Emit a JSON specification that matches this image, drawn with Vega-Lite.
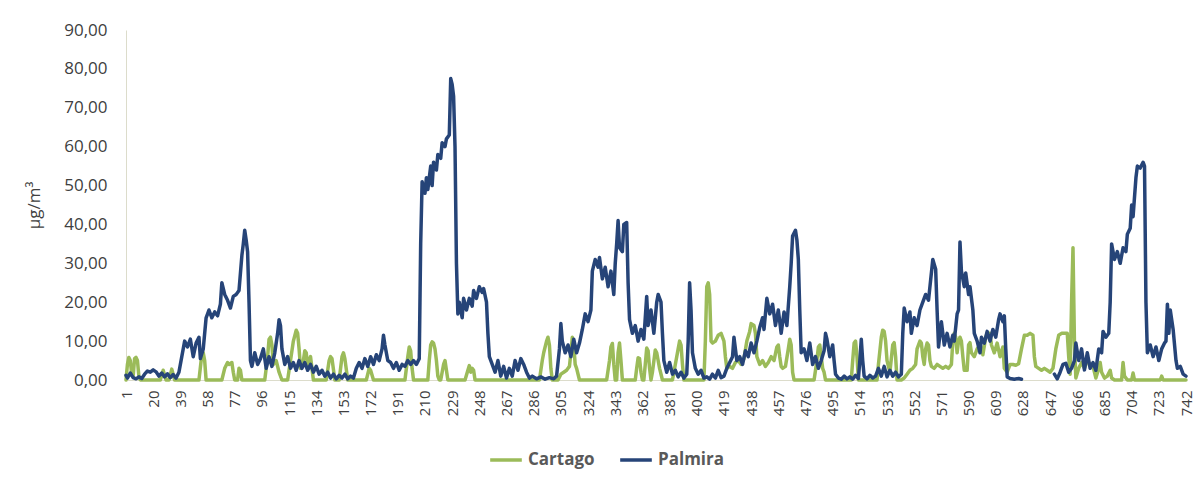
{
"$schema": "https://vega.github.io/schema/vega-lite/v6.json",
"width": 1060, "height": 350,
"autosize": {"type": "none"},
"padding": {"left": 126, "top": 30, "right": 16, "bottom": 100},
"background": "white",
"config": {"view": {"stroke": null}, "font": "Open Sans"},
"data": {"values": [
{"s":"Cartago","i":1,"v":0},{"s":"Cartago","i":2,"v":4.0},{"s":"Cartago","i":3,"v":5.8},{"s":"Cartago","i":4,"v":5.0},{"s":"Cartago","i":5,"v":1.5},{"s":"Cartago","i":6,"v":1.0},{"s":"Cartago","i":7,"v":5.5},{"s":"Cartago","i":8,"v":5.8},{"s":"Cartago","i":9,"v":5.0},{"s":"Cartago","i":10,"v":1.0},{"s":"Cartago","i":11,"v":0},{"s":"Cartago","i":25,"v":0},{"s":"Cartago","i":27,"v":2.5},{"s":"Cartago","i":29,"v":0},{"s":"Cartago","i":31,"v":0},{"s":"Cartago","i":33,"v":2.8},{"s":"Cartago","i":35,"v":0},{"s":"Cartago","i":52,"v":0},{"s":"Cartago","i":54,"v":6.5},{"s":"Cartago","i":55,"v":7.0},{"s":"Cartago","i":56,"v":5.0},{"s":"Cartago","i":57,"v":0},{"s":"Cartago","i":68,"v":0},{"s":"Cartago","i":70,"v":3.0},{"s":"Cartago","i":72,"v":4.5},{"s":"Cartago","i":73,"v":4.0},{"s":"Cartago","i":75,"v":4.5},{"s":"Cartago","i":76,"v":2.0},{"s":"Cartago","i":77,"v":0},{"s":"Cartago","i":79,"v":0},{"s":"Cartago","i":80,"v":3.0},{"s":"Cartago","i":81,"v":2.5},{"s":"Cartago","i":82,"v":0},{"s":"Cartago","i":98,"v":0},{"s":"Cartago","i":100,"v":6.0},{"s":"Cartago","i":101,"v":10.5},{"s":"Cartago","i":102,"v":11.0},{"s":"Cartago","i":103,"v":9.0},{"s":"Cartago","i":104,"v":4.0},{"s":"Cartago","i":106,"v":5.0},{"s":"Cartago","i":108,"v":2.0},{"s":"Cartago","i":110,"v":0},{"s":"Cartago","i":114,"v":0},{"s":"Cartago","i":116,"v":5.0},{"s":"Cartago","i":118,"v":10.0},{"s":"Cartago","i":120,"v":12.8},{"s":"Cartago","i":121,"v":12.0},{"s":"Cartago","i":122,"v":8.0},{"s":"Cartago","i":123,"v":3.0},{"s":"Cartago","i":125,"v":5.0},{"s":"Cartago","i":126,"v":7.5},{"s":"Cartago","i":127,"v":7.0},{"s":"Cartago","i":128,"v":3.5},{"s":"Cartago","i":129,"v":5.0},{"s":"Cartago","i":130,"v":6.0},{"s":"Cartago","i":131,"v":3.0},{"s":"Cartago","i":132,"v":0},{"s":"Cartago","i":141,"v":0},{"s":"Cartago","i":143,"v":5.0},{"s":"Cartago","i":144,"v":6.0},{"s":"Cartago","i":145,"v":5.5},{"s":"Cartago","i":147,"v":0},{"s":"Cartago","i":150,"v":0},{"s":"Cartago","i":152,"v":6.0},{"s":"Cartago","i":153,"v":7.0},{"s":"Cartago","i":154,"v":5.5},{"s":"Cartago","i":156,"v":0},{"s":"Cartago","i":169,"v":0},{"s":"Cartago","i":171,"v":3.0},{"s":"Cartago","i":172,"v":2.5},{"s":"Cartago","i":174,"v":0},{"s":"Cartago","i":196,"v":0},{"s":"Cartago","i":198,"v":6.0},{"s":"Cartago","i":199,"v":8.5},{"s":"Cartago","i":200,"v":7.5},{"s":"Cartago","i":201,"v":3.0},{"s":"Cartago","i":202,"v":0},{"s":"Cartago","i":212,"v":0},{"s":"Cartago","i":213,"v":5.0},{"s":"Cartago","i":214,"v":9.0},{"s":"Cartago","i":215,"v":9.8},{"s":"Cartago","i":216,"v":9.5},{"s":"Cartago","i":217,"v":8.0},{"s":"Cartago","i":218,"v":5.0},{"s":"Cartago","i":219,"v":1.0},{"s":"Cartago","i":220,"v":0},{"s":"Cartago","i":221,"v":0},{"s":"Cartago","i":223,"v":4.0},{"s":"Cartago","i":224,"v":5.0},{"s":"Cartago","i":225,"v":2.5},{"s":"Cartago","i":226,"v":0},{"s":"Cartago","i":238,"v":0},{"s":"Cartago","i":240,"v":2.5},{"s":"Cartago","i":241,"v":3.7},{"s":"Cartago","i":242,"v":2.0},{"s":"Cartago","i":243,"v":3.0},{"s":"Cartago","i":244,"v":2.5},{"s":"Cartago","i":245,"v":0},{"s":"Cartago","i":290,"v":0},{"s":"Cartago","i":292,"v":5.0},{"s":"Cartago","i":293,"v":7.0},{"s":"Cartago","i":295,"v":10.0},{"s":"Cartago","i":296,"v":11.0},{"s":"Cartago","i":297,"v":9.0},{"s":"Cartago","i":298,"v":3.0},{"s":"Cartago","i":299,"v":0},{"s":"Cartago","i":303,"v":0},{"s":"Cartago","i":305,"v":1.5},{"s":"Cartago","i":307,"v":2.0},{"s":"Cartago","i":309,"v":2.5},{"s":"Cartago","i":310,"v":3.0},{"s":"Cartago","i":311,"v":3.5},{"s":"Cartago","i":312,"v":7.0},{"s":"Cartago","i":313,"v":11.0},{"s":"Cartago","i":314,"v":9.0},{"s":"Cartago","i":315,"v":4.0},{"s":"Cartago","i":316,"v":3.0},{"s":"Cartago","i":318,"v":0},{"s":"Cartago","i":337,"v":0},{"s":"Cartago","i":339,"v":5.0},{"s":"Cartago","i":340,"v":8.5},{"s":"Cartago","i":341,"v":9.4},{"s":"Cartago","i":342,"v":4.0},{"s":"Cartago","i":343,"v":0},{"s":"Cartago","i":344,"v":0},{"s":"Cartago","i":345,"v":7.0},{"s":"Cartago","i":346,"v":9.5},{"s":"Cartago","i":347,"v":5.0},{"s":"Cartago","i":348,"v":0},{"s":"Cartago","i":357,"v":0},{"s":"Cartago","i":358,"v":3.0},{"s":"Cartago","i":359,"v":5.7},{"s":"Cartago","i":360,"v":5.5},{"s":"Cartago","i":361,"v":2.0},{"s":"Cartago","i":362,"v":0},{"s":"Cartago","i":363,"v":0},{"s":"Cartago","i":364,"v":4.0},{"s":"Cartago","i":365,"v":8.2},{"s":"Cartago","i":366,"v":7.5},{"s":"Cartago","i":367,"v":3.0},{"s":"Cartago","i":368,"v":0},{"s":"Cartago","i":369,"v":2.0},{"s":"Cartago","i":371,"v":7.7},{"s":"Cartago","i":372,"v":7.0},{"s":"Cartago","i":373,"v":5.0},{"s":"Cartago","i":374,"v":3.0},{"s":"Cartago","i":376,"v":0},{"s":"Cartago","i":383,"v":0},{"s":"Cartago","i":385,"v":4.0},{"s":"Cartago","i":387,"v":8.0},{"s":"Cartago","i":388,"v":10.0},{"s":"Cartago","i":389,"v":9.0},{"s":"Cartago","i":390,"v":4.0},{"s":"Cartago","i":391,"v":0},{"s":"Cartago","i":405,"v":0},{"s":"Cartago","i":406,"v":10.0},{"s":"Cartago","i":407,"v":24.0},{"s":"Cartago","i":408,"v":25.0},{"s":"Cartago","i":409,"v":22.0},{"s":"Cartago","i":410,"v":10.0},{"s":"Cartago","i":411,"v":9.5},{"s":"Cartago","i":413,"v":10.0},{"s":"Cartago","i":415,"v":11.5},{"s":"Cartago","i":417,"v":12.0},{"s":"Cartago","i":419,"v":10.0},{"s":"Cartago","i":420,"v":6.0},{"s":"Cartago","i":421,"v":3.0},{"s":"Cartago","i":423,"v":3.5},{"s":"Cartago","i":425,"v":3.0},{"s":"Cartago","i":427,"v":4.5},{"s":"Cartago","i":429,"v":5.0},{"s":"Cartago","i":431,"v":4.0},{"s":"Cartago","i":433,"v":5.5},{"s":"Cartago","i":435,"v":10.0},{"s":"Cartago","i":437,"v":12.5},{"s":"Cartago","i":438,"v":14.5},{"s":"Cartago","i":440,"v":14.0},{"s":"Cartago","i":441,"v":12.0},{"s":"Cartago","i":442,"v":6.0},{"s":"Cartago","i":444,"v":4.0},{"s":"Cartago","i":446,"v":5.0},{"s":"Cartago","i":448,"v":3.5},{"s":"Cartago","i":450,"v":4.5},{"s":"Cartago","i":452,"v":6.0},{"s":"Cartago","i":454,"v":5.0},{"s":"Cartago","i":456,"v":8.5},{"s":"Cartago","i":457,"v":9.0},{"s":"Cartago","i":458,"v":6.0},{"s":"Cartago","i":459,"v":3.5},{"s":"Cartago","i":460,"v":3.0},{"s":"Cartago","i":462,"v":3.5},{"s":"Cartago","i":464,"v":8.0},{"s":"Cartago","i":465,"v":10.5},{"s":"Cartago","i":466,"v":9.0},{"s":"Cartago","i":467,"v":2.0},{"s":"Cartago","i":468,"v":0},{"s":"Cartago","i":482,"v":0},{"s":"Cartago","i":484,"v":5.0},{"s":"Cartago","i":485,"v":8.5},{"s":"Cartago","i":486,"v":9.0},{"s":"Cartago","i":487,"v":6.0},{"s":"Cartago","i":488,"v":3.0},{"s":"Cartago","i":489,"v":2.0},{"s":"Cartago","i":490,"v":0},{"s":"Cartago","i":508,"v":0},{"s":"Cartago","i":509,"v":5.0},{"s":"Cartago","i":510,"v":9.5},{"s":"Cartago","i":511,"v":10.0},{"s":"Cartago","i":512,"v":6.0},{"s":"Cartago","i":513,"v":0},{"s":"Cartago","i":526,"v":0},{"s":"Cartago","i":527,"v":4.0},{"s":"Cartago","i":529,"v":11.0},{"s":"Cartago","i":530,"v":12.8},{"s":"Cartago","i":531,"v":12.5},{"s":"Cartago","i":532,"v":10.0},{"s":"Cartago","i":533,"v":5.0},{"s":"Cartago","i":535,"v":2.0},{"s":"Cartago","i":537,"v":9.0},{"s":"Cartago","i":538,"v":9.6},{"s":"Cartago","i":539,"v":6.0},{"s":"Cartago","i":540,"v":0},{"s":"Cartago","i":543,"v":0},{"s":"Cartago","i":545,"v":0.5},{"s":"Cartago","i":547,"v":1.5},{"s":"Cartago","i":549,"v":2.5},{"s":"Cartago","i":551,"v":3.0},{"s":"Cartago","i":553,"v":4.0},{"s":"Cartago","i":554,"v":8.0},{"s":"Cartago","i":556,"v":10.0},{"s":"Cartago","i":557,"v":9.5},{"s":"Cartago","i":558,"v":6.0},{"s":"Cartago","i":559,"v":4.0},{"s":"Cartago","i":560,"v":8.0},{"s":"Cartago","i":561,"v":9.5},{"s":"Cartago","i":562,"v":9.0},{"s":"Cartago","i":563,"v":5.0},{"s":"Cartago","i":564,"v":3.5},{"s":"Cartago","i":566,"v":3.0},{"s":"Cartago","i":568,"v":4.0},{"s":"Cartago","i":570,"v":3.5},{"s":"Cartago","i":572,"v":3.0},{"s":"Cartago","i":574,"v":3.5},{"s":"Cartago","i":576,"v":3.0},{"s":"Cartago","i":578,"v":4.0},{"s":"Cartago","i":579,"v":10.0},{"s":"Cartago","i":580,"v":12.0},{"s":"Cartago","i":581,"v":11.0},{"s":"Cartago","i":582,"v":7.0},{"s":"Cartago","i":583,"v":10.0},{"s":"Cartago","i":584,"v":11.0},{"s":"Cartago","i":585,"v":10.0},{"s":"Cartago","i":586,"v":6.0},{"s":"Cartago","i":587,"v":2.5},{"s":"Cartago","i":589,"v":2.5},{"s":"Cartago","i":590,"v":9.0},{"s":"Cartago","i":591,"v":9.6},{"s":"Cartago","i":592,"v":7.0},{"s":"Cartago","i":594,"v":6.0},{"s":"Cartago","i":596,"v":8.0},{"s":"Cartago","i":598,"v":9.0},{"s":"Cartago","i":600,"v":6.5},{"s":"Cartago","i":602,"v":11.0},{"s":"Cartago","i":603,"v":12.0},{"s":"Cartago","i":605,"v":12.0},{"s":"Cartago","i":606,"v":9.0},{"s":"Cartago","i":608,"v":7.0},{"s":"Cartago","i":610,"v":9.5},{"s":"Cartago","i":612,"v":6.0},{"s":"Cartago","i":614,"v":8.5},{"s":"Cartago","i":615,"v":3.0},{"s":"Cartago","i":617,"v":2.0},{"s":"Cartago","i":619,"v":4.0},{"s":"Cartago","i":621,"v":4.0},{"s":"Cartago","i":623,"v":3.8},{"s":"Cartago","i":625,"v":4.2},{"s":"Cartago","i":627,"v":8.0},{"s":"Cartago","i":629,"v":11.5},{"s":"Cartago","i":631,"v":11.5},{"s":"Cartago","i":633,"v":12.0},{"s":"Cartago","i":635,"v":11.5},{"s":"Cartago","i":636,"v":6.0},{"s":"Cartago","i":637,"v":3.5},{"s":"Cartago","i":639,"v":3.0},{"s":"Cartago","i":641,"v":2.5},{"s":"Cartago","i":643,"v":3.0},{"s":"Cartago","i":645,"v":2.5},{"s":"Cartago","i":647,"v":2.0},{"s":"Cartago","i":649,"v":3.0},{"s":"Cartago","i":651,"v":8.0},{"s":"Cartago","i":653,"v":11.5},{"s":"Cartago","i":655,"v":12.0},{"s":"Cartago","i":657,"v":12.0},{"s":"Cartago","i":659,"v":12.0},{"s":"Cartago","i":660,"v":6.0},{"s":"Cartago","i":661,"v":1.5},{"s":"Cartago","i":662,"v":20.0},{"s":"Cartago","i":663,"v":34.0},{"s":"Cartago","i":664,"v":10.0},{"s":"Cartago","i":665,"v":0.5},{"s":"Cartago","i":667,"v":3.0},{"s":"Cartago","i":669,"v":4.5},{"s":"Cartago","i":671,"v":3.0},{"s":"Cartago","i":673,"v":5.0},{"s":"Cartago","i":675,"v":4.0},{"s":"Cartago","i":677,"v":3.5},{"s":"Cartago","i":679,"v":0.5},{"s":"Cartago","i":681,"v":3.0},{"s":"Cartago","i":682,"v":4.5},{"s":"Cartago","i":683,"v":2.0},{"s":"Cartago","i":685,"v":0.5},{"s":"Cartago","i":687,"v":1.0},{"s":"Cartago","i":689,"v":2.5},{"s":"Cartago","i":690,"v":0.5},{"s":"Cartago","i":692,"v":0},{"s":"Cartago","i":697,"v":0},{"s":"Cartago","i":698,"v":4.5},{"s":"Cartago","i":699,"v":1.0},{"s":"Cartago","i":701,"v":0},{"s":"Cartago","i":704,"v":0},{"s":"Cartago","i":705,"v":1.8},{"s":"Cartago","i":706,"v":0},{"s":"Cartago","i":724,"v":0},{"s":"Cartago","i":725,"v":1.0},{"s":"Cartago","i":726,"v":0},{"s":"Cartago","i":742,"v":0},
{"s":"Palmira","i":1,"v":1.2},{"s":"Palmira","i":2,"v":0.5},{"s":"Palmira","i":4,"v":1.8},{"s":"Palmira","i":6,"v":0.6},{"s":"Palmira","i":8,"v":0.3},{"s":"Palmira","i":10,"v":0.8},{"s":"Palmira","i":12,"v":0.4},{"s":"Palmira","i":14,"v":1.5},{"s":"Palmira","i":16,"v":2.3},{"s":"Palmira","i":18,"v":2.0},{"s":"Palmira","i":20,"v":2.6},{"s":"Palmira","i":22,"v":2.1},{"s":"Palmira","i":24,"v":1.0},{"s":"Palmira","i":26,"v":1.8},{"s":"Palmira","i":28,"v":0.8},{"s":"Palmira","i":30,"v":1.6},{"s":"Palmira","i":32,"v":0.6},{"s":"Palmira","i":34,"v":1.4},{"s":"Palmira","i":36,"v":0.5},{"s":"Palmira","i":38,"v":2.0},{"s":"Palmira","i":40,"v":6.0},{"s":"Palmira","i":42,"v":10.0},{"s":"Palmira","i":44,"v":8.5},{"s":"Palmira","i":46,"v":10.5},{"s":"Palmira","i":48,"v":6.0},{"s":"Palmira","i":50,"v":9.5},{"s":"Palmira","i":52,"v":11.0},{"s":"Palmira","i":53,"v":5.5},{"s":"Palmira","i":55,"v":8.0},{"s":"Palmira","i":57,"v":16.0},{"s":"Palmira","i":59,"v":18.0},{"s":"Palmira","i":61,"v":16.0},{"s":"Palmira","i":63,"v":17.5},{"s":"Palmira","i":65,"v":16.5},{"s":"Palmira","i":67,"v":19.5},{"s":"Palmira","i":68,"v":25.0},{"s":"Palmira","i":70,"v":22.0},{"s":"Palmira","i":72,"v":20.5},{"s":"Palmira","i":74,"v":18.5},{"s":"Palmira","i":76,"v":21.5},{"s":"Palmira","i":78,"v":22.0},{"s":"Palmira","i":80,"v":23.0},{"s":"Palmira","i":82,"v":32.0},{"s":"Palmira","i":83,"v":35.0},{"s":"Palmira","i":84,"v":38.5},{"s":"Palmira","i":85,"v":36.0},{"s":"Palmira","i":86,"v":33.0},{"s":"Palmira","i":87,"v":20.0},{"s":"Palmira","i":88,"v":5.0},{"s":"Palmira","i":89,"v":3.5},{"s":"Palmira","i":91,"v":7.0},{"s":"Palmira","i":93,"v":4.0},{"s":"Palmira","i":95,"v":5.5},{"s":"Palmira","i":97,"v":8.0},{"s":"Palmira","i":99,"v":3.0},{"s":"Palmira","i":101,"v":6.0},{"s":"Palmira","i":103,"v":3.5},{"s":"Palmira","i":105,"v":7.0},{"s":"Palmira","i":107,"v":12.0},{"s":"Palmira","i":108,"v":15.5},{"s":"Palmira","i":109,"v":14.0},{"s":"Palmira","i":110,"v":8.0},{"s":"Palmira","i":112,"v":4.0},{"s":"Palmira","i":114,"v":6.0},{"s":"Palmira","i":116,"v":3.0},{"s":"Palmira","i":118,"v":4.5},{"s":"Palmira","i":120,"v":2.5},{"s":"Palmira","i":122,"v":5.0},{"s":"Palmira","i":124,"v":3.0},{"s":"Palmira","i":126,"v":4.5},{"s":"Palmira","i":128,"v":2.5},{"s":"Palmira","i":130,"v":4.0},{"s":"Palmira","i":132,"v":2.0},{"s":"Palmira","i":134,"v":3.5},{"s":"Palmira","i":136,"v":1.5},{"s":"Palmira","i":138,"v":2.5},{"s":"Palmira","i":140,"v":1.0},{"s":"Palmira","i":142,"v":2.0},{"s":"Palmira","i":144,"v":0.5},{"s":"Palmira","i":146,"v":1.5},{"s":"Palmira","i":148,"v":0.3},{"s":"Palmira","i":150,"v":1.2},{"s":"Palmira","i":152,"v":0.5},{"s":"Palmira","i":154,"v":1.5},{"s":"Palmira","i":156,"v":0.3},{"s":"Palmira","i":158,"v":1.0},{"s":"Palmira","i":160,"v":0.5},{"s":"Palmira","i":162,"v":3.0},{"s":"Palmira","i":164,"v":4.5},{"s":"Palmira","i":166,"v":3.0},{"s":"Palmira","i":168,"v":5.5},{"s":"Palmira","i":170,"v":3.5},{"s":"Palmira","i":172,"v":6.0},{"s":"Palmira","i":174,"v":4.0},{"s":"Palmira","i":176,"v":6.5},{"s":"Palmira","i":178,"v":5.0},{"s":"Palmira","i":180,"v":8.0},{"s":"Palmira","i":181,"v":11.5},{"s":"Palmira","i":182,"v":9.0},{"s":"Palmira","i":184,"v":5.0},{"s":"Palmira","i":186,"v":4.5},{"s":"Palmira","i":188,"v":3.0},{"s":"Palmira","i":190,"v":4.5},{"s":"Palmira","i":192,"v":2.5},{"s":"Palmira","i":194,"v":4.0},{"s":"Palmira","i":196,"v":3.5},{"s":"Palmira","i":198,"v":5.0},{"s":"Palmira","i":200,"v":4.0},{"s":"Palmira","i":202,"v":5.0},{"s":"Palmira","i":204,"v":4.0},{"s":"Palmira","i":206,"v":5.5},{"s":"Palmira","i":207,"v":35.0},{"s":"Palmira","i":208,"v":51.0},{"s":"Palmira","i":210,"v":48.0},{"s":"Palmira","i":211,"v":52.0},{"s":"Palmira","i":212,"v":49.0},{"s":"Palmira","i":214,"v":55.0},{"s":"Palmira","i":215,"v":50.0},{"s":"Palmira","i":216,"v":56.0},{"s":"Palmira","i":218,"v":54.0},{"s":"Palmira","i":219,"v":58.0},{"s":"Palmira","i":221,"v":57.0},{"s":"Palmira","i":222,"v":61.0},{"s":"Palmira","i":224,"v":60.0},{"s":"Palmira","i":225,"v":62.0},{"s":"Palmira","i":227,"v":63.0},{"s":"Palmira","i":228,"v":77.5},{"s":"Palmira","i":229,"v":76.0},{"s":"Palmira","i":230,"v":73.0},{"s":"Palmira","i":231,"v":60.0},{"s":"Palmira","i":232,"v":30.0},{"s":"Palmira","i":233,"v":17.0},{"s":"Palmira","i":234,"v":20.0},{"s":"Palmira","i":236,"v":16.0},{"s":"Palmira","i":237,"v":21.0},{"s":"Palmira","i":239,"v":18.0},{"s":"Palmira","i":241,"v":21.0},{"s":"Palmira","i":243,"v":19.0},{"s":"Palmira","i":244,"v":23.0},{"s":"Palmira","i":246,"v":21.0},{"s":"Palmira","i":248,"v":24.0},{"s":"Palmira","i":250,"v":22.5},{"s":"Palmira","i":251,"v":23.5},{"s":"Palmira","i":253,"v":20.0},{"s":"Palmira","i":254,"v":12.0},{"s":"Palmira","i":255,"v":6.0},{"s":"Palmira","i":257,"v":4.0},{"s":"Palmira","i":259,"v":2.0},{"s":"Palmira","i":261,"v":5.0},{"s":"Palmira","i":263,"v":1.0},{"s":"Palmira","i":265,"v":3.5},{"s":"Palmira","i":267,"v":0.5},{"s":"Palmira","i":269,"v":3.0},{"s":"Palmira","i":271,"v":1.0},{"s":"Palmira","i":273,"v":5.0},{"s":"Palmira","i":275,"v":2.5},{"s":"Palmira","i":277,"v":5.5},{"s":"Palmira","i":279,"v":4.0},{"s":"Palmira","i":281,"v":2.0},{"s":"Palmira","i":283,"v":0.5},{"s":"Palmira","i":285,"v":1.0},{"s":"Palmira","i":288,"v":0.3},{"s":"Palmira","i":291,"v":0.8},{"s":"Palmira","i":294,"v":0.2},{"s":"Palmira","i":297,"v":0.6},{"s":"Palmira","i":300,"v":0.3},{"s":"Palmira","i":302,"v":1.0},{"s":"Palmira","i":304,"v":8.0},{"s":"Palmira","i":305,"v":14.5},{"s":"Palmira","i":306,"v":10.0},{"s":"Palmira","i":308,"v":7.0},{"s":"Palmira","i":310,"v":9.0},{"s":"Palmira","i":312,"v":6.0},{"s":"Palmira","i":314,"v":10.5},{"s":"Palmira","i":316,"v":7.0},{"s":"Palmira","i":318,"v":9.5},{"s":"Palmira","i":320,"v":13.0},{"s":"Palmira","i":322,"v":17.0},{"s":"Palmira","i":324,"v":15.0},{"s":"Palmira","i":326,"v":18.0},{"s":"Palmira","i":327,"v":28.0},{"s":"Palmira","i":329,"v":31.0},{"s":"Palmira","i":331,"v":29.0},{"s":"Palmira","i":332,"v":31.5},{"s":"Palmira","i":334,"v":26.0},{"s":"Palmira","i":336,"v":29.0},{"s":"Palmira","i":338,"v":24.0},{"s":"Palmira","i":340,"v":28.0},{"s":"Palmira","i":342,"v":22.0},{"s":"Palmira","i":343,"v":30.0},{"s":"Palmira","i":344,"v":35.0},{"s":"Palmira","i":345,"v":41.0},{"s":"Palmira","i":346,"v":34.0},{"s":"Palmira","i":348,"v":33.0},{"s":"Palmira","i":349,"v":40.0},{"s":"Palmira","i":351,"v":40.5},{"s":"Palmira","i":352,"v":25.0},{"s":"Palmira","i":353,"v":15.5},{"s":"Palmira","i":355,"v":12.0},{"s":"Palmira","i":357,"v":14.0},{"s":"Palmira","i":359,"v":10.0},{"s":"Palmira","i":361,"v":13.0},{"s":"Palmira","i":363,"v":10.5},{"s":"Palmira","i":365,"v":21.5},{"s":"Palmira","i":366,"v":14.0},{"s":"Palmira","i":368,"v":18.0},{"s":"Palmira","i":370,"v":12.0},{"s":"Palmira","i":372,"v":20.0},{"s":"Palmira","i":373,"v":22.0},{"s":"Palmira","i":375,"v":20.0},{"s":"Palmira","i":376,"v":12.0},{"s":"Palmira","i":377,"v":5.0},{"s":"Palmira","i":379,"v":2.0},{"s":"Palmira","i":381,"v":4.5},{"s":"Palmira","i":383,"v":1.5},{"s":"Palmira","i":385,"v":2.5},{"s":"Palmira","i":387,"v":0.8},{"s":"Palmira","i":389,"v":2.0},{"s":"Palmira","i":391,"v":0.5},{"s":"Palmira","i":393,"v":1.5},{"s":"Palmira","i":394,"v":10.0},{"s":"Palmira","i":395,"v":25.0},{"s":"Palmira","i":396,"v":18.0},{"s":"Palmira","i":397,"v":7.0},{"s":"Palmira","i":399,"v":3.0},{"s":"Palmira","i":401,"v":1.5},{"s":"Palmira","i":403,"v":2.5},{"s":"Palmira","i":405,"v":0.5},{"s":"Palmira","i":407,"v":0.8},{"s":"Palmira","i":409,"v":0.2},{"s":"Palmira","i":411,"v":1.5},{"s":"Palmira","i":413,"v":0.5},{"s":"Palmira","i":415,"v":2.5},{"s":"Palmira","i":417,"v":0.6},{"s":"Palmira","i":419,"v":1.0},{"s":"Palmira","i":421,"v":3.0},{"s":"Palmira","i":423,"v":4.5},{"s":"Palmira","i":425,"v":6.0},{"s":"Palmira","i":426,"v":11.0},{"s":"Palmira","i":428,"v":5.0},{"s":"Palmira","i":430,"v":6.0},{"s":"Palmira","i":432,"v":4.0},{"s":"Palmira","i":434,"v":7.5},{"s":"Palmira","i":436,"v":6.0},{"s":"Palmira","i":438,"v":9.5},{"s":"Palmira","i":440,"v":7.0},{"s":"Palmira","i":442,"v":10.0},{"s":"Palmira","i":444,"v":13.5},{"s":"Palmira","i":446,"v":16.0},{"s":"Palmira","i":447,"v":13.0},{"s":"Palmira","i":449,"v":21.0},{"s":"Palmira","i":451,"v":17.0},{"s":"Palmira","i":453,"v":19.5},{"s":"Palmira","i":455,"v":14.0},{"s":"Palmira","i":457,"v":18.0},{"s":"Palmira","i":459,"v":12.0},{"s":"Palmira","i":461,"v":17.5},{"s":"Palmira","i":463,"v":14.0},{"s":"Palmira","i":465,"v":24.0},{"s":"Palmira","i":466,"v":30.0},{"s":"Palmira","i":467,"v":37.0},{"s":"Palmira","i":469,"v":38.5},{"s":"Palmira","i":470,"v":36.0},{"s":"Palmira","i":471,"v":31.0},{"s":"Palmira","i":472,"v":18.0},{"s":"Palmira","i":473,"v":7.0},{"s":"Palmira","i":475,"v":8.0},{"s":"Palmira","i":477,"v":5.0},{"s":"Palmira","i":479,"v":9.5},{"s":"Palmira","i":481,"v":4.0},{"s":"Palmira","i":483,"v":6.0},{"s":"Palmira","i":485,"v":3.0},{"s":"Palmira","i":487,"v":5.0},{"s":"Palmira","i":489,"v":7.5},{"s":"Palmira","i":490,"v":12.0},{"s":"Palmira","i":491,"v":10.5},{"s":"Palmira","i":493,"v":6.0},{"s":"Palmira","i":495,"v":9.0},{"s":"Palmira","i":496,"v":5.0},{"s":"Palmira","i":497,"v":1.5},{"s":"Palmira","i":499,"v":0.5},{"s":"Palmira","i":501,"v":0.2},{"s":"Palmira","i":503,"v":1.0},{"s":"Palmira","i":505,"v":0.3},{"s":"Palmira","i":507,"v":0.8},{"s":"Palmira","i":509,"v":0.2},{"s":"Palmira","i":511,"v":1.2},{"s":"Palmira","i":513,"v":0.4},{"s":"Palmira","i":514,"v":5.0},{"s":"Palmira","i":515,"v":10.5},{"s":"Palmira","i":516,"v":5.0},{"s":"Palmira","i":517,"v":1.0},{"s":"Palmira","i":519,"v":0.3},{"s":"Palmira","i":521,"v":1.2},{"s":"Palmira","i":523,"v":0.5},{"s":"Palmira","i":525,"v":1.0},{"s":"Palmira","i":527,"v":3.0},{"s":"Palmira","i":529,"v":1.0},{"s":"Palmira","i":531,"v":3.5},{"s":"Palmira","i":533,"v":0.8},{"s":"Palmira","i":535,"v":2.5},{"s":"Palmira","i":537,"v":1.0},{"s":"Palmira","i":539,"v":2.0},{"s":"Palmira","i":541,"v":0.8},{"s":"Palmira","i":543,"v":1.5},{"s":"Palmira","i":544,"v":12.0},{"s":"Palmira","i":545,"v":18.5},{"s":"Palmira","i":547,"v":15.0},{"s":"Palmira","i":549,"v":17.5},{"s":"Palmira","i":550,"v":12.0},{"s":"Palmira","i":552,"v":16.0},{"s":"Palmira","i":554,"v":14.0},{"s":"Palmira","i":556,"v":18.0},{"s":"Palmira","i":558,"v":20.0},{"s":"Palmira","i":560,"v":22.0},{"s":"Palmira","i":562,"v":20.5},{"s":"Palmira","i":563,"v":24.0},{"s":"Palmira","i":565,"v":31.0},{"s":"Palmira","i":567,"v":28.5},{"s":"Palmira","i":568,"v":18.0},{"s":"Palmira","i":569,"v":8.5},{"s":"Palmira","i":571,"v":15.0},{"s":"Palmira","i":573,"v":9.0},{"s":"Palmira","i":575,"v":12.0},{"s":"Palmira","i":577,"v":8.5},{"s":"Palmira","i":579,"v":11.5},{"s":"Palmira","i":580,"v":10.0},{"s":"Palmira","i":582,"v":17.0},{"s":"Palmira","i":583,"v":18.0},{"s":"Palmira","i":584,"v":35.5},{"s":"Palmira","i":585,"v":28.0},{"s":"Palmira","i":587,"v":24.0},{"s":"Palmira","i":588,"v":27.5},{"s":"Palmira","i":590,"v":22.0},{"s":"Palmira","i":591,"v":24.0},{"s":"Palmira","i":593,"v":18.0},{"s":"Palmira","i":594,"v":12.0},{"s":"Palmira","i":596,"v":10.0},{"s":"Palmira","i":598,"v":7.0},{"s":"Palmira","i":599,"v":11.0},{"s":"Palmira","i":601,"v":9.5},{"s":"Palmira","i":603,"v":12.5},{"s":"Palmira","i":605,"v":10.0},{"s":"Palmira","i":607,"v":13.0},{"s":"Palmira","i":609,"v":11.0},{"s":"Palmira","i":611,"v":15.5},{"s":"Palmira","i":612,"v":17.0},{"s":"Palmira","i":614,"v":15.0},{"s":"Palmira","i":615,"v":16.5},{"s":"Palmira","i":616,"v":8.0},{"s":"Palmira","i":617,"v":0.8},{"s":"Palmira","i":619,"v":0.4},{"s":"Palmira","i":622,"v":0.2},{"s":"Palmira","i":625,"v":0.4},{"s":"Palmira","i":627,"v":0.2},{"s":"Palmira","i":638,"v":null},{"s":"Palmira","i":650,"v":1.5},{"s":"Palmira","i":652,"v":0.3},{"s":"Palmira","i":654,"v":2.0},{"s":"Palmira","i":656,"v":4.0},{"s":"Palmira","i":658,"v":4.3},{"s":"Palmira","i":660,"v":2.0},{"s":"Palmira","i":662,"v":3.0},{"s":"Palmira","i":664,"v":5.0},{"s":"Palmira","i":665,"v":9.5},{"s":"Palmira","i":667,"v":5.0},{"s":"Palmira","i":669,"v":8.0},{"s":"Palmira","i":671,"v":2.6},{"s":"Palmira","i":673,"v":7.0},{"s":"Palmira","i":675,"v":3.0},{"s":"Palmira","i":677,"v":4.5},{"s":"Palmira","i":679,"v":2.5},{"s":"Palmira","i":681,"v":8.0},{"s":"Palmira","i":683,"v":7.0},{"s":"Palmira","i":684,"v":12.5},{"s":"Palmira","i":686,"v":11.0},{"s":"Palmira","i":688,"v":12.0},{"s":"Palmira","i":689,"v":20.0},{"s":"Palmira","i":690,"v":35.0},{"s":"Palmira","i":692,"v":31.0},{"s":"Palmira","i":694,"v":33.0},{"s":"Palmira","i":696,"v":30.0},{"s":"Palmira","i":698,"v":34.0},{"s":"Palmira","i":700,"v":33.0},{"s":"Palmira","i":701,"v":37.5},{"s":"Palmira","i":703,"v":39.0},{"s":"Palmira","i":704,"v":45.0},{"s":"Palmira","i":705,"v":42.0},{"s":"Palmira","i":707,"v":52.0},{"s":"Palmira","i":708,"v":55.0},{"s":"Palmira","i":710,"v":54.5},{"s":"Palmira","i":712,"v":56.0},{"s":"Palmira","i":713,"v":55.0},{"s":"Palmira","i":714,"v":20.0},{"s":"Palmira","i":715,"v":7.0},{"s":"Palmira","i":717,"v":9.0},{"s":"Palmira","i":719,"v":6.0},{"s":"Palmira","i":721,"v":8.5},{"s":"Palmira","i":723,"v":5.0},{"s":"Palmira","i":725,"v":8.0},{"s":"Palmira","i":727,"v":9.5},{"s":"Palmira","i":728,"v":10.0},{"s":"Palmira","i":729,"v":19.5},{"s":"Palmira","i":730,"v":12.0},{"s":"Palmira","i":731,"v":18.0},{"s":"Palmira","i":733,"v":13.0},{"s":"Palmira","i":735,"v":5.0},{"s":"Palmira","i":736,"v":3.0},{"s":"Palmira","i":738,"v":3.5},{"s":"Palmira","i":740,"v":1.5},{"s":"Palmira","i":742,"v":1.0}
]},
"mark": {"type": "line", "strokeWidth": 3.5, "strokeJoin": "round", "strokeCap": "round", "invalid": "break-paths-show-domains"},
"encoding": {
 "x": {"field": "i", "type": "quantitative", "scale": {"domain": [1, 742], "nice": false, "zero": false},
  "axis": {"title": null, "values": [1,20,39,58,77,96,115,134,153,172,191,210,229,248,267,286,305,324,343,362,381,400,419,438,457,476,495,514,533,552,571,590,609,628,647,666,685,704,723,742],
   "labelAngle": -90, "ticks": false, "grid": false, "domainColor": "#dcdccb", "domainWidth": 1, "labelFontSize": 15, "labelColor": "#404040", "labelPadding": 10, "labelFlush": false, "labelOverlap": false}},
 "y": {"field": "v", "type": "quantitative", "scale": {"domain": [0, 90], "nice": false},
  "axis": {"title": "µg/m³", "titleFontSize": 17, "titleFontWeight": "normal", "titleColor": "#404040", "titlePadding": 20,
   "values": [0,10,20,30,40,50,60,70,80,90], "labelExpr": "replace(format(datum.value, '.2f'), '.', ',')",
   "grid": false, "ticks": false, "domainColor": "#dcdccb", "labelFontSize": 17, "labelColor": "#404040", "labelPadding": 19}},
 "color": {"field": "s", "type": "nominal", "scale": {"domain": ["Cartago", "Palmira"], "range": ["#9bbb59", "#264478"]},
  "legend": {"title": null, "orient": "none", "legendX": 362, "legendY": 412, "direction": "horizontal",
   "symbolType": "stroke", "symbolSize": 1000, "symbolStrokeWidth": 3.5, "labelFontSize": 17, "labelFontWeight": "bold",
   "labelColor": "#595959", "labelOffset": 4, "columnPadding": 18}}
}
}
